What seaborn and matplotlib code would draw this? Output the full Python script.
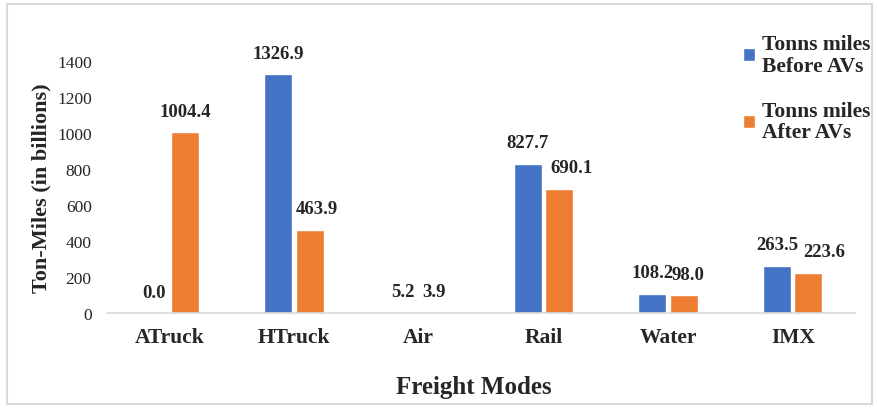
import matplotlib.pyplot as plt
import matplotlib as mpl
import seaborn as sns
import pandas as pd

modes = ['ATruck', 'HTruck', 'Air', 'Rail', 'Water', 'IMX']
before_avs = [0.0, 1326.9, 5.2, 827.7, 108.2, 263.5]
after_avs = [1004.4, 463.9, 3.9, 690.1, 98.0, 223.6]
series = ['Tonns miles\nBefore AVs', 'Tonns miles\nAfter AVs']

df = pd.DataFrame({
    'mode': modes * 2,
    'value': before_avs + after_avs,
    'series': [series[0]] * len(modes) + [series[1]] * len(modes),
})

sns.set_theme(style="white")
mpl.rcParams['font.family'] = ['Liberation Serif', 'DejaVu Serif']

fig = plt.figure(figsize=(8.77, 4.10), dpi=100)
ax = fig.add_axes([0.122, 0.234, 0.853, 0.615])

sns.barplot(data=df, x='mode', y='value', hue='series', order=modes,
            hue_order=series, palette=['#4472C4', '#ED7D31'],
            width=0.505, gap=0.11, saturation=1, ax=ax)

# excel nudges the "after" labels sideways where they would collide (points)
nudge = [[0, 0, 0, 0, 0, 0], [0, 5, 0, 9, 3, 11]]
for c, dx in zip(ax.containers, nudge):
    anns = ax.bar_label(c, fmt='%.1f', padding=9, fontsize=13.5,
                        fontweight='bold', clip_on=False)
    for a, d in zip(anns, dx):
        a.xyann = (d, a.xyann[1])

ax.set_ylim(0, 1400)
ax.set_yticks(range(0, 1401, 200))
ax.set_xlim(-0.5, 5.5)
ax.tick_params(axis='x', length=0, pad=10, labelsize=15.5)
ax.tick_params(axis='y', length=0, pad=11, labelsize=12.5)
for t in ax.get_xticklabels():
    t.set_fontweight('bold')
ax.set_xlabel('Freight Modes', fontsize=18, fontweight='bold')
ax.set_ylabel('Ton-Miles (in billions)', fontsize=16, fontweight='bold', labelpad=4)
ax.xaxis.set_label_coords(0.49, -0.245)

for s in ['top', 'right', 'left']:
    ax.spines[s].set_visible(False)
ax.spines['bottom'].set_color('#d9d9d9')
ax.spines['bottom'].set_linewidth(1.2)

ax.get_legend().remove()
handles, labels = ax.get_legend_handles_labels()
leg = fig.legend(handles, labels, loc='upper left', bbox_to_anchor=(0.837, 0.935),
                 frameon=False,
                 prop={'family': 'Liberation Serif', 'weight': 'bold', 'size': 15.5},
                 handlelength=0.55, handleheight=0.55, handletextpad=0.35,
                 labelspacing=1.15, borderaxespad=0)
for t in leg.get_texts():
    t.set_linespacing(1.1)

fig.patches.append(mpl.patches.Rectangle((0.008, 0.012), 0.986, 0.976,
                                         transform=fig.transFigure, fill=False,
                                         edgecolor='#d9d9d9', linewidth=1.5))

fig.savefig('out.png', dpi=100)
